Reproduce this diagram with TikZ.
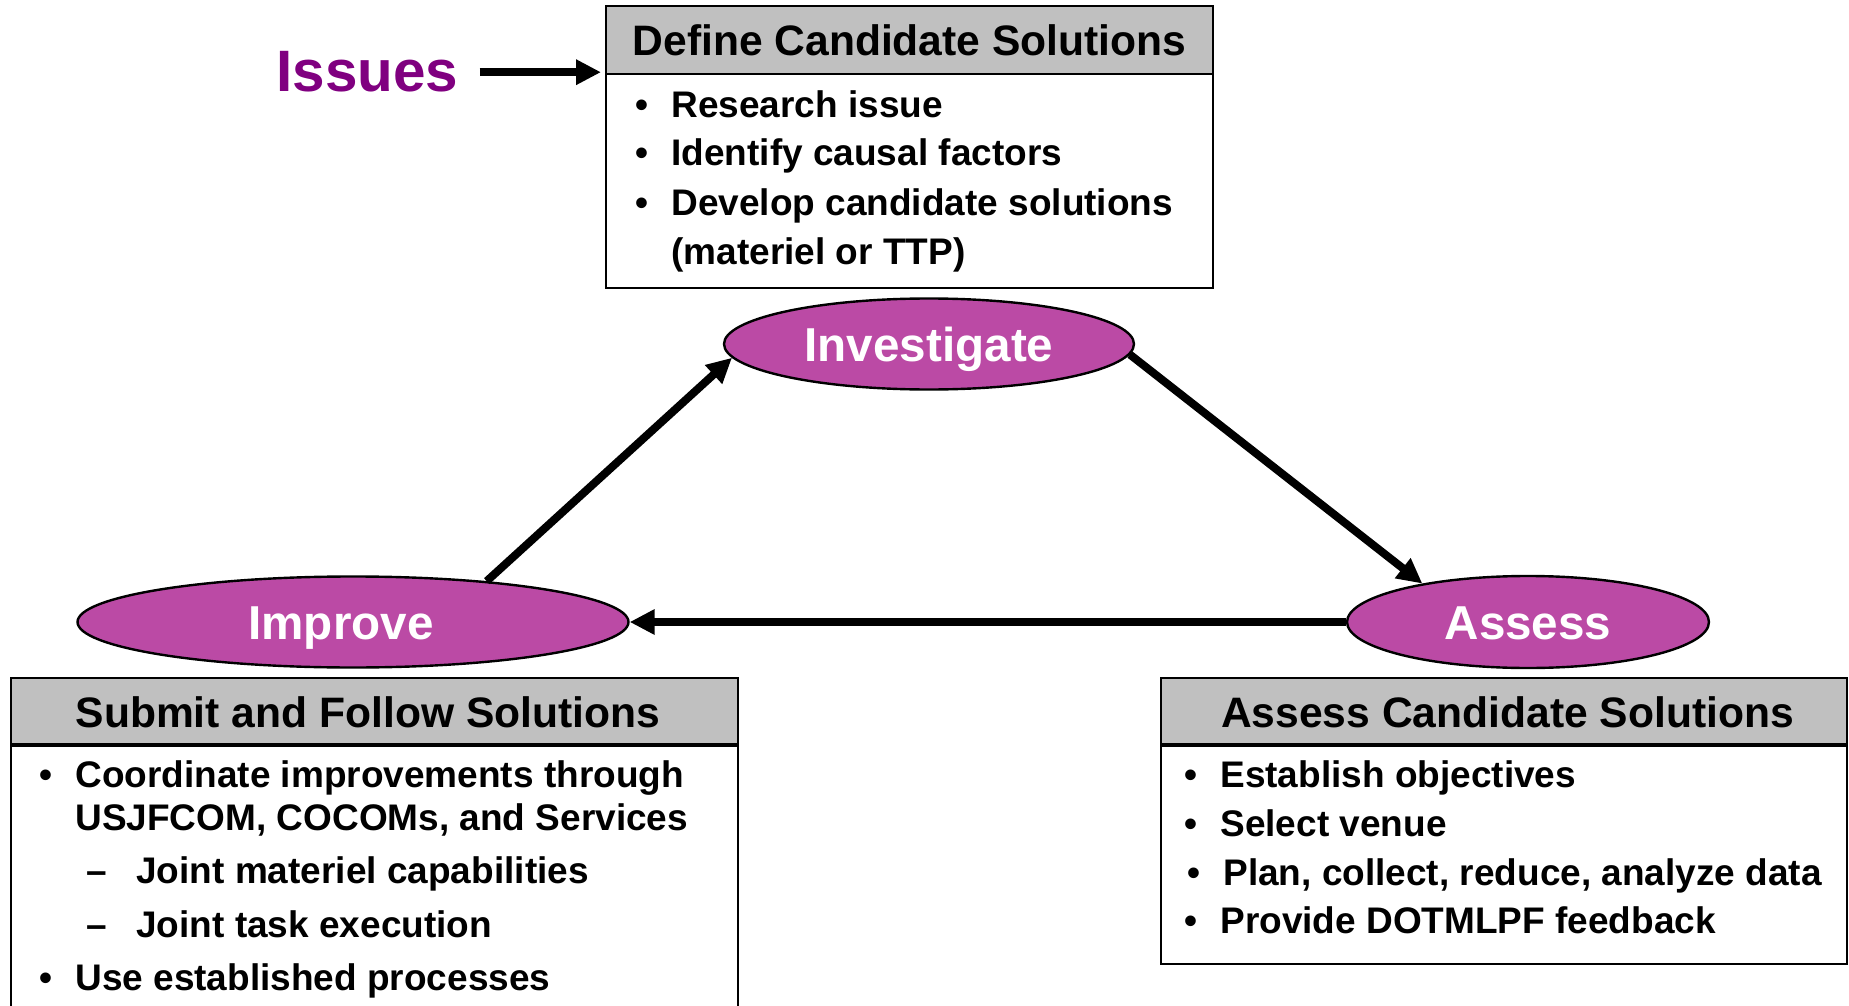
\documentclass[tikz,border=0pt]{standalone}
\usepackage{fontspec}
\setmainfont{Liberation Sans}
\usepackage{xcolor}
\usepackage{tikz}
\usetikzlibrary{shapes.geometric,arrows.meta}

\definecolor{phasefill}{RGB}{187,74,165}
\definecolor{issuepurple}{RGB}{128,0,128}
\definecolor{headgray}{RGB}{192,192,192}

\newcommand{\bul}{\llap{\textbullet\hspace{11.25pt}}}
\newcommand{\subdash}{\llap{--\hspace{14.5pt}}}

\tikzset{
	phase/.style={ellipse, draw, line width=1.2pt, fill=phasefill, text=white, inner sep=0pt,
		font=\fontsize{23.8}{28}\selectfont\bfseries, text height=17.1pt, text depth=0pt},
	boxhead/.style={rectangle, draw, line width=1pt, fill=headgray, anchor=north west, inner sep=0pt,
		minimum height=34pt, font=\fontsize{21.3}{25}\selectfont\bfseries, text height=15.3pt, text depth=0pt},
	boxbody/.style={rectangle, draw, line width=1pt, anchor=north west, inner sep=0pt},
	item/.style={anchor=base west, inner sep=0pt, font=\fontsize{18.5}{22}\selectfont\bfseries},
	flow/.style={-{Triangle[length=12.5pt,width=12pt]}, line width=4pt}
}

\begin{document}
\begin{tikzpicture}[x=0.5pt,y=-0.5pt]
	\useasboundingbox (0,0) rectangle (1849,1006);
	\clip (0,0) rectangle (1849,1006);

	% define candidate solutions
	\node[boxhead, minimum width=303.5pt] (defhead) at (605,5) {Define Candidate Solutions};
	\node[boxbody, minimum width=303.5pt, minimum height=107pt] (defbody) at (605,73) {};
	\foreach \i/\y/\txt in {1/118/Research issue, 2/166/Identify causal factors, 3/215/Develop candidate solutions}
		\node[item] (def-\i) at (671,\y) {\bul\txt};
	\node[item] (def-4) at (671,264) {(materiel or TTP)};

	\node[anchor=base west, inner sep=0pt, text=issuepurple, font=\fontsize{29.2}{34}\selectfont\bfseries] (issues) at (276,92) {Issues};
	\draw[flow, shorten <=10.5pt, shorten >=2pt] (issues.east) -- (issues.east -| defhead.west);

	% cycle
	\node[phase, minimum width=205pt, minimum height=45.5pt] (investigate) at (929,344) {Investigate};
	\node[phase, minimum width=275.5pt, minimum height=45.5pt] (improve) at (353,622) {\hspace*{-12pt}Improve};
	\node[phase, minimum width=181pt, minimum height=46pt] (assess) at (1528,622) {Assess};

	\draw[flow] (improve.17) -- (investigate.184);
	\draw[flow] (investigate.-3) -- (assess.160);
	\draw[flow] (assess.west) -- (improve.east);

	% submit and follow solutions
	\node[boxhead, minimum width=363.5pt] (subhead) at (10,677) {\hspace*{-6.6pt}Submit and Follow Solutions};
	\node[boxbody, minimum width=363.5pt, minimum height=160pt] (subbody) at (10,743) {};
	\node[item] (sub-1) at (75,787) {\bul Coordinate improvements through};
	\node[item] (sub-2) at (75,830) {USJFCOM, COCOMs, and Services};
	\node[item] (sub-3) at (136,883) {\subdash Joint materiel capabilities};
	\node[item] (sub-4) at (136,937) {\subdash Joint task execution};
	\node[item] (sub-5) at (75,990) {\bul Use established processes};

	% assess candidate solutions
	\node[boxhead, minimum width=343pt] (asshead) at (1160,677) {\hspace*{3.6pt}Assess Candidate Solutions};
	\node[boxbody, minimum width=343pt, minimum height=110pt] (assbody) at (1160,743) {};
	\foreach \i/\y/\x/\txt in {1/787/1220/Establish objectives, 2/836/1220/Select venue, 3/885/1223/{Plan, collect, reduce, analyze data}, 4/933/1220/Provide DOTMLPF feedback}
		\node[item] (ass-\i) at (\x,\y) {\bul\txt};

\end{tikzpicture}
\end{document}
